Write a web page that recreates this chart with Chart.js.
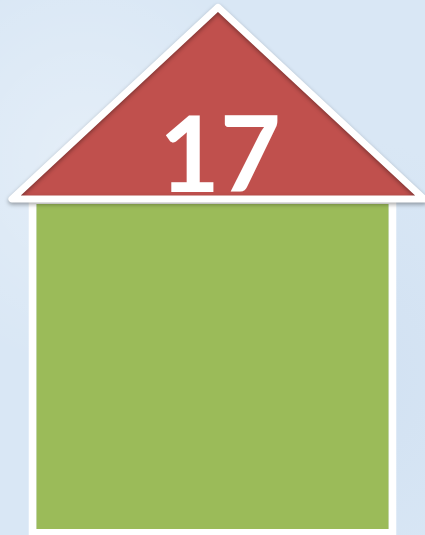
<!DOCTYPE html>
<html>
<head>
<meta charset="utf-8">
<script src="https://cdn.jsdelivr.net/npm/chart.js@4/dist/chart.umd.min.js"></script>
<style>
  html, body { margin: 0; padding: 0; }
  body { width: 425px; height: 535px; overflow: hidden;
    background: #d9e7f5;
    background-image:
      radial-gradient(ellipse at 20% 30%, rgba(255,255,255,0.3), rgba(255,255,255,0) 40%),
      radial-gradient(ellipse at 80% 70%, rgba(190,210,235,0.3), rgba(190,210,235,0) 45%);
  }
  #wrap { position: relative; width: 425px; height: 535px; }
</style>
</head>
<body>
<div id="wrap"><canvas id="c" width="425" height="535"></canvas></div>
<script>
// ---- data ----
const categories = ['17'];            // single house / value label
const values = [17];                  // house body (bar) height
const roofX = [0, 1, 0, -1, 0];       // roof outline, along the roof axis
const roofY = [17, 17, 26.7, 17, 17]; // roof outline heights (base = bar top)
const labelText = ['17'];

const roofPoints = roofX.map((x, i) => ({ x: x, y: roofY[i] }));

const labelPlugin = {
  id: 'roofLabel',
  afterDatasetsDraw(chart) {
    const ctx = chart.ctx;
    const xs = chart.scales.xr, ys = chart.scales.y;
    ctx.save();
    ctx.fillStyle = '#ffffff';
    ctx.font = 'bold 105px Lato';
    ctx.textAlign = 'center';
    ctx.textBaseline = 'alphabetic';
    ctx.fillText(labelText[0], xs.getPixelForValue(0) + 2, ys.getPixelForValue(values[0]) - 7);
    ctx.restore();
  }
};

const shadowPlugin = {
  id: 'roofShadow',
  beforeDatasetDraw(chart, args) {
    if (args.meta.type === 'line') {
      const ctx = chart.ctx;
      ctx.save();
      ctx.shadowColor = 'rgba(0,0,0,0.35)';
      ctx.shadowBlur = 4;
      ctx.shadowOffsetY = 2;
    }
  },
  afterDatasetDraw(chart, args) {
    if (args.meta.type === 'line') chart.ctx.restore();
  }
};

new Chart(document.getElementById('c'), {
  type: 'bar',
  data: {
    labels: categories,
    datasets: [
      {
        type: 'bar',
        data: values,
        xAxisID: 'x',
        yAxisID: 'y',
        backgroundColor: '#9bbb59',
        borderColor: '#ffffff',
        borderWidth: { left: 8, right: 8, top: 5, bottom: 6 },
        borderSkipped: false,
        grouped: false,
        barPercentage: 0.866,
        categoryPercentage: 1,
        order: 1
      },
      {
        type: 'line',
        data: roofPoints,
        xAxisID: 'xr',
        yAxisID: 'y',
        borderColor: '#ffffff',
        backgroundColor: '#c0504d',
        borderWidth: 7,
        borderJoinStyle: 'round',
        borderCapStyle: 'butt',
        fill: 'shape',
        tension: 0,
        pointRadius: 0,
        clip: false,
        order: 0
      }
    ]
  },
  options: {
    responsive: false,
    animation: false,
    events: [],
    layout: { padding: 0 },
    plugins: { legend: { display: false }, tooltip: { enabled: false } },
    scales: {
      x: { type: 'category', labels: categories, display: false, offset: true },
      xr: { type: 'linear', axis: 'x', display: false, offset: false, grid: { offset: false }, min: -1.058, max: 1.005 },
      y: { type: 'linear', display: false, min: 0, max: 27.07 }
    }
  },
  plugins: [shadowPlugin, labelPlugin]
});
</script>
</body>
</html>
